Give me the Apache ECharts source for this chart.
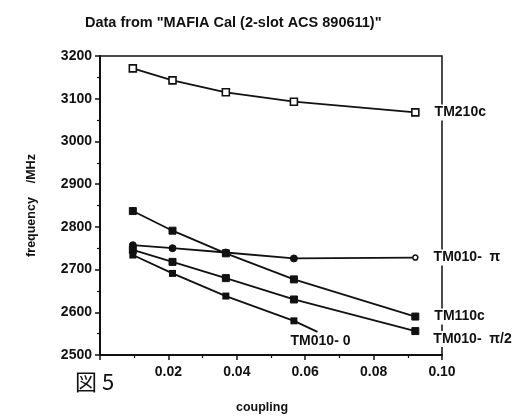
<!DOCTYPE html>
<html><head><meta charset="utf-8">
<script src="https://cdn.jsdelivr.net/npm/echarts@6/dist/echarts.min.js"></script>
<style>html,body{margin:0;padding:0;background:#fff}#c{width:517px;height:420px}</style>
</head><body><div id="c"></div>
<script>
const coupling = [0.0096, 0.0212, 0.0368, 0.0567, 0.0922];
const tm210c = [3171, 3143, 3115, 3093, 3068];
const tm110c = [2837, 2791, 2738, 2677, 2590];
const tm010pi = [2757, 2750, 2740, 2726, 2728];
const tm010pi2 = [2746, 2718, 2680, 2630, 2556];
const tm010zero = [2734, 2691, 2638, 2580];
const zeroLeaderEnd = [0.0636, 2554];
const seriesNames = ['TM210c', 'TM110c', 'TM010-  π', 'TM010-  π/2', 'TM010- 0'];
const xTicks = [0.02, 0.04, 0.06, 0.08, 0.10];

const ink = '#111';
const font = '"Liberation Sans", Arial, sans-serif';
const pts = arr => arr.map((v, i) => [coupling[i], v]);

function endLabelSeries(name, vals, symbol, size, lastStyle, labelOpt) {
  const data = pts(vals).map((p, i) => {
    const d = { value: p };
    if (i === vals.length - 1) {
      d.label = Object.assign({ show: true, formatter: name, color: ink, fontFamily: font,
        fontWeight: 'bold', fontSize: 14, backgroundColor: '#fff', padding: [1, 2] }, labelOpt);
      if (lastStyle) Object.assign(d, lastStyle);
    }
    return d;
  });
  return { type: 'line', name, data, symbol, symbolSize: size, showSymbol: true,
    lineStyle: { color: ink, width: 1.8 }, itemStyle: { color: ink, borderColor: ink },
    emphasis: { disabled: true }, animation: false, z: 5 };
}

const zeroData = pts(tm010zero).map(p => ({ value: p }));
zeroData.push({ value: zeroLeaderEnd, symbolSize: 0.01,
  label: { show: true, formatter: seriesNames[4], position: 'bottom', distance: 1, offset: [3, 0],
    color: ink, fontFamily: font, fontWeight: 'bold', fontSize: 14, backgroundColor: '#fff', padding: [1, 2] } });

const option = {
  animation: false,
  backgroundColor: '#fff',
  title: { text: 'Data from "MAFIA Cal (2-slot ACS 890611)"', left: 80, top: 10,
    textStyle: { fontFamily: font, fontWeight: 'bold', fontSize: 14.5, color: ink } },
  grid: { left: 100, right: 75, top: 56, bottom: 65, show: true, borderColor: ink, borderWidth: 1.5 },
  xAxis: { type: 'value', min: 0, max: 0.1, interval: 0.02,
    name: 'coupling', nameLocation: 'middle', nameGap: 46,
    nameTextStyle: { fontFamily: font, fontWeight: 'bold', fontSize: 12.5, color: ink, padding: [0, 18, 0, 0] },
    axisLine: { show: true, lineStyle: { color: ink, width: 2 } },
    axisTick: { show: true, inside: false, length: 5, lineStyle: { color: ink, width: 1.5 } },
    minorTick: { show: true, splitNumber: 2, length: 3, lineStyle: { color: ink, width: 1.2 } },
    splitLine: { show: false },
    axisLabel: { margin: 10, fontFamily: font, fontWeight: 'bold', fontSize: 14, color: ink,
      formatter: v => xTicks.some(t => Math.abs(t - v) < 1e-9) ? v.toFixed(2) : '' } },
  yAxis: { type: 'value', min: 2500, max: 3200, interval: 100,
    name: 'frequency    /MHz', nameLocation: 'middle', nameGap: 62, nameRotate: 90,
    nameTextStyle: { fontFamily: font, fontWeight: 'bold', fontSize: 12.5, color: ink },
    axisLine: { show: true, lineStyle: { color: ink, width: 2 } },
    axisTick: { show: true, inside: false, length: 5, lineStyle: { color: ink, width: 1.5 } },
    minorTick: { show: true, splitNumber: 2, length: 3, lineStyle: { color: ink, width: 1.2 } },
    splitLine: { show: false },
    axisLabel: { margin: 8, fontFamily: font, fontWeight: 'bold', fontSize: 14, color: ink,
      formatter: v => String(v) } },
  graphic: [
    { type: 'text', left: 75, top: 371, style: { text: '図 5', fontFamily: '"Noto Sans CJK JP"', fontSize: 22, fill: ink } }
  ],
  series: [
    Object.assign(endLabelSeries(seriesNames[0], tm210c, 'rect', 7, null, { position: 'right', distance: 13 }),
      { itemStyle: { color: '#fff', borderColor: ink, borderWidth: 1.6 } }),
    endLabelSeries(seriesNames[1], tm110c, 'rect', 7, null, { position: 'right', distance: 13 }),
    endLabelSeries(seriesNames[2], tm010pi, 'circle', 7,
      { symbolSize: 5, itemStyle: { color: '#fff', borderColor: ink, borderWidth: 1.5 } },
      { position: 'right', distance: 13 }),
    endLabelSeries(seriesNames[3], tm010pi2, 'rect', 7, null, { position: 'right', distance: 12, offset: [0, 8] }),
    { type: 'line', name: seriesNames[4], data: zeroData, symbol: 'rect', symbolSize: 7, showAllSymbol: true,
      lineStyle: { color: ink, width: 1.8 }, itemStyle: { color: ink }, emphasis: { disabled: true }, z: 5 }
  ]
};
echarts.init(document.getElementById('c'), null, { renderer: 'canvas' }).setOption(option);
</script></body></html>
